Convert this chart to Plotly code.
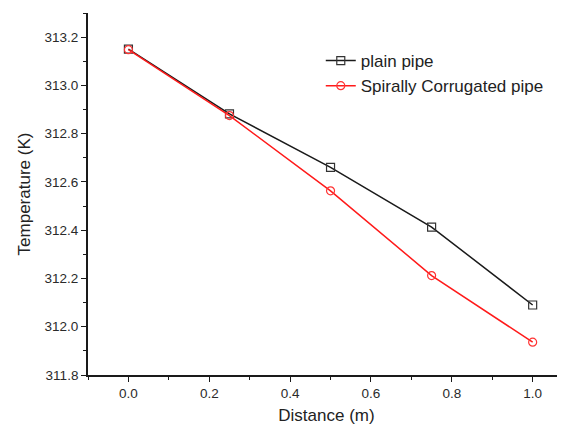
import plotly.graph_objects as go

distance = [0.0, 0.25, 0.5, 0.75, 1.0]
plain_pipe = [313.15, 312.882, 312.66, 312.413, 312.09]
spiral_pipe = [313.148, 312.875, 312.563, 312.212, 311.936]

fig = go.Figure()
fig.add_trace(go.Scatter(
    x=distance, y=plain_pipe, name="plain pipe", mode="lines+markers",
    line=dict(color="#1a1a1a", width=1.5),
    marker=dict(symbol="square-open", size=8, color="#333333", line=dict(width=1.2))))
fig.add_trace(go.Scatter(
    x=distance, y=spiral_pipe, name="Spirally Corrugated pipe", mode="lines+markers",
    line=dict(color="#ff1a1a", width=1.5),
    marker=dict(symbol="circle-open", size=8, color="#ff3333", line=dict(width=1.2))))

axis_common = dict(
    showgrid=False, zeroline=False, showline=True, linecolor="#1a1a1a", linewidth=1.8,
    ticks="outside", ticklen=5, tickwidth=1.3, tickcolor="#1a1a1a",
    tickfont=dict(family="Liberation Sans, Arial", size=13.5, color="#2a2a2a"),
    title_font=dict(family="Liberation Sans, Arial", size=17, color="#222222"),
)

fig.update_xaxes(range=[-0.1, 1.08], dtick=0.2, tick0=0, tickformat=".1f",
                 title_text="Distance (m)", title_standoff=9,
                 minor=dict(ticks="outside", ticklen=3, dtick=0.1, tick0=0, tickcolor="#1a1a1a"),
                 **axis_common)
fig.update_yaxes(range=[311.8, 313.3], dtick=0.2, tick0=311.8, tickformat=".1f",
                 title_text="Temperature (K)", title_standoff=10,
                 minor=dict(ticks="outside", ticklen=3, dtick=0.1, tick0=311.8, tickcolor="#1a1a1a"),
                 **axis_common)

fig.update_layout(
    width=557, height=423,
    margin=dict(l=80, r=0, t=5, b=56),
    paper_bgcolor="white", plot_bgcolor="white",
    showlegend=True,
    legend=dict(x=0.488, y=0.917, xanchor="left", yanchor="top",
                bgcolor="rgba(0,0,0,0)", tracegroupgap=0,
                font=dict(family="Liberation Sans, Arial", size=17, color="#222222")),
)

fig.write_html("out.html")
